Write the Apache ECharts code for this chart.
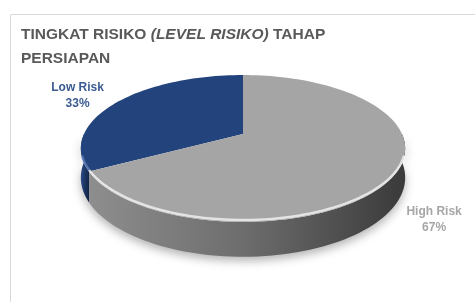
<!doctype html>
<html>
<head>
<meta charset="utf-8">
<title>Tingkat Risiko</title>
<script src="https://cdn.jsdelivr.net/npm/echarts@6/dist/echarts.min.js"></script>
<style>
  html, body { margin: 0; padding: 0; background: #fff; }
  #chart { width: 475px; height: 302px; }
</style>
</head>
<body>
<div id="chart"></div>
<script>
  // data
  var categories = ['Low Risk', 'High Risk'];
  var values = [33, 67];

  // styles
  var topColors = ['#22437c', '#a5a5a5'];
  var sideColors = [['#2a4c86', '#1c3766', '#142a50'], ['#8e8e8e', '#6c6c6c', '#3a3a3a']];
  var rimColors = ['rgba(120,150,210,0.6)', 'rgba(255,255,255,0.7)'];
  var labelColors = ['#3b5b92', '#a6a6a6'];

  // layout of the tilted pie (with a little perspective)
  var CX = 243, CY = 134, RX = 159, RY = 70.6, DEPTH = 28, PERSP = 0.197;

  var total = values.reduce(function (a, b) { return a + b; }, 0);
  var starts = [];
  var acc = 90;
  values.forEach(function (v) { starts.push(acc); acc += v / total * 360; });

  function pt(deg, dz) {
    var r = deg * Math.PI / 180;
    var s = 1 / (1 + PERSP * Math.sin(r));
    return [CX + RX * Math.cos(r) * s, CY - RY * Math.sin(r) * s + (dz || 0) * s];
  }
  function arc(a0, a1, dz) {
    var pts = [];
    var n = Math.max(2, Math.ceil(Math.abs(a1 - a0) / 2));
    for (var i = 0; i <= n; i++) pts.push(pt(a0 + (a1 - a0) * i / n, dz));
    return pts;
  }

  var myChart = echarts.init(document.getElementById('chart'));

  var option = {
    animation: false,
    backgroundColor: '#fff',
    title: {
      text: '{a|TINGKAT RISIKO }{b|(LEVEL RISIKO)}{a| TAHAP}\n{a|PERSIAPAN}',
      left: 16,
      top: 18,
      textStyle: {
        rich: {
          a: { fontFamily: 'Liberation Sans', fontWeight: 'bold', fontSize: 15.5, color: '#595959', lineHeight: 24 },
          b: { fontFamily: 'Liberation Sans', fontWeight: 'bold', fontStyle: 'italic', fontSize: 15.5, color: '#595959', lineHeight: 24 }
        }
      }
    },
    graphic: [{
      type: 'rect',
      shape: { x: 10.5, y: 14.5, width: 600, height: 400 },
      style: { fill: 'none', stroke: '#d9d9d9', lineWidth: 1 },
      z: -1
    }],
    series: [{
      type: 'custom',
      coordinateSystem: 'none',
      data: categories.map(function (c, i) { return [i, values[i]]; }),
      renderItem: function (params, api) {
        var i = params.dataIndex;
        var a0 = starts[i];
        var a1 = a0 + api.value(1) / total * 360;
        var children = [];
        [0, 360].forEach(function (k) {
          // visible front side of the slice
          var s = Math.max(a0, 180 + k), e = Math.min(a1, 360 + k);
          if (e > s) {
            children.push({
              type: 'polygon',
              z2: 1,
              shape: { points: arc(s, e, 0).concat(arc(e, s, DEPTH)) },
              style: {
                fill: {
                  type: 'linear', x: 0, y: 0, x2: 1, y2: 0,
                  colorStops: [
                    { offset: 0, color: sideColors[i][0] },
                    { offset: 0.5, color: sideColors[i][1] },
                    { offset: 1, color: sideColors[i][2] }
                  ]
                },
                shadowBlur: 10,
                shadowOffsetY: 4,
                shadowColor: 'rgba(0,0,0,0.3)'
              }
            });
          }
          // bevel highlight along the front rim
          var rs = Math.max(a0, 198 + k), re = Math.min(a1, 342 + k);
          if (re > rs) {
            children.push({
              type: 'polyline',
              z2: 11,
              shape: { points: arc(rs, re, -1.5) },
              style: { fill: 'none', stroke: rimColors[i], lineWidth: 2.5 }
            });
          }
        });
        // top face
        children.push({
          type: 'polygon',
          z2: 10,
          shape: { points: [[CX, CY]].concat(arc(a0, a1, 0)) },
          style: { fill: topColors[i] }
        });
        // label
        var mid = (a0 + a1) / 2;
        var p = pt(mid, 0);
        var c = Math.cos(mid * Math.PI / 180), sn = Math.sin(mid * Math.PI / 180);
        var pct = Math.round(api.value(1) / total * 100) + '%';
        children.push({
          type: 'text',
          z2: 20,
          x: p[0] + (c > 0 ? 39 : -41),
          y: p[1] + (sn > 0 ? -6 : 46),
          style: {
            text: categories[i] + '\n' + pct,
            align: 'center',
            verticalAlign: 'middle',
            fill: labelColors[i],
            font: 'bold 12px "Liberation Sans"',
            lineHeight: 16
          }
        });
        return { type: 'group', children: children };
      }
    }]
  };

  myChart.setOption(option);
</script>
</body>
</html>
